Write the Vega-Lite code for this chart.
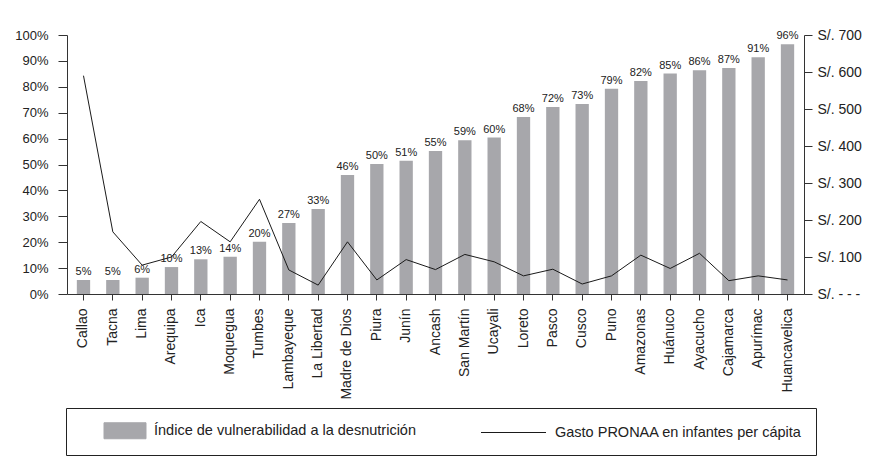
{
  "$schema": "https://vega.github.io/schema/vega-lite/v6.json",
  "width": 737,
  "height": 259,
  "autosize": {"type": "none"},
  "padding": {"left": 67, "top": 35, "right": 69, "bottom": 170},
  "background": "white",
  "config": {
    "view": {"stroke": null},
    "font": "Liberation Sans",
    "axis": {"domainColor": "#333", "tickColor": "#333", "labelColor": "#222", "grid": false, "title": null, "domainWidth": 1, "tickWidth": 1}
  },
  "data": {
    "values": [
      {"region": "Callao", "indice": 0.054, "gasto": 590},
      {"region": "Tacna", "indice": 0.054, "gasto": 168},
      {"region": "Lima", "indice": 0.063, "gasto": 78},
      {"region": "Arequipa", "indice": 0.104, "gasto": 100},
      {"region": "Ica", "indice": 0.134, "gasto": 196},
      {"region": "Moquegua", "indice": 0.144, "gasto": 141},
      {"region": "Tumbes", "indice": 0.202, "gasto": 256},
      {"region": "Lambayeque", "indice": 0.274, "gasto": 65},
      {"region": "La Libertad", "indice": 0.328, "gasto": 24},
      {"region": "Madre de Dios", "indice": 0.459, "gasto": 141},
      {"region": "Piura", "indice": 0.502, "gasto": 38},
      {"region": "Junín", "indice": 0.514, "gasto": 93},
      {"region": "Ancash", "indice": 0.552, "gasto": 66},
      {"region": "San Martín", "indice": 0.594, "gasto": 107},
      {"region": "Ucayali", "indice": 0.604, "gasto": 87},
      {"region": "Loreto", "indice": 0.683, "gasto": 49},
      {"region": "Pasco", "indice": 0.722, "gasto": 67},
      {"region": "Cusco", "indice": 0.734, "gasto": 27},
      {"region": "Puno", "indice": 0.792, "gasto": 49},
      {"region": "Amazonas", "indice": 0.822, "gasto": 105},
      {"region": "Huánuco", "indice": 0.851, "gasto": 69},
      {"region": "Ayacucho", "indice": 0.864, "gasto": 110},
      {"region": "Cajamarca", "indice": 0.873, "gasto": 36},
      {"region": "Apurímac", "indice": 0.914, "gasto": 49},
      {"region": "Huancavelica", "indice": 0.964, "gasto": 38}
    ]
  },
  "encoding": {
    "x": {
      "field": "region", "type": "nominal", "sort": null,
      "scale": {"paddingInner": 0.546, "paddingOuter": 0.335},
      "axis": {"labelAngle": -90, "labelAlign": "right", "labelBaseline": "middle", "tickSize": 6, "labelPadding": 8, "labelFontSize": 14}
    }
  },
  "layer": [
    {
      "encoding": {
        "y": {
          "field": "indice", "type": "quantitative",
          "scale": {"domain": [0, 1]},
          "axis": {"orient": "left", "values": [0, 0.1, 0.2, 0.3, 0.4, 0.5, 0.6, 0.7, 0.8, 0.9, 1], "format": ".0%", "tickSize": 9, "labelPadding": 10, "labelFontSize": 13}
        }
      },
      "layer": [
        {
          "mark": {"type": "bar"},
          "encoding": {
            "color": {
              "datum": "Índice de vulnerabilidad a la desnutrición",
              "scale": {"domain": ["Índice de vulnerabilidad a la desnutrición", "Gasto PRONAA en infantes per cápita"], "range": ["#a7a7ab", "#1a1a1a"]},
              "legend": {
                "orient": "none", "legendX": -1, "legendY": 373,
                "direction": "horizontal", "columns": 2, "title": null,
                "columnPadding": 63, "padding": 14, "strokeColor": "#222",
                "symbolSize": 256, "labelOffset": 57, "labelFontSize": 14.5, "labelLimit": 500, "labelColor": "#222",
                "encode": {
                  "symbols": {
                    "update": {
                      "shape": {"signal": "datum.value == 'Gasto PRONAA en infantes per cápita' ? 'M-1.0625,0H7.0625' : 'M1.9375,-1H7.1875V1H1.9375Z'"},
                      "fill": {"signal": "datum.value == 'Gasto PRONAA en infantes per cápita' ? 'transparent' : '#a7a7ab'"},
                      "stroke": {"signal": "datum.value == 'Gasto PRONAA en infantes per cápita' ? '#1a1a1a' : 'transparent'"},
                      "strokeWidth": {"value": 1},
                      "opacity": {"value": 1}
                    }
                  }
                }
              }
            }
          }
        },
        {
          "mark": {"type": "text", "baseline": "bottom", "dy": -3, "fontSize": 11, "fill": "#222"},
          "encoding": {"text": {"field": "indice", "type": "quantitative", "format": ".0%"}}
        }
      ]
    },
    {
      "mark": {"type": "line", "strokeWidth": 1},
      "encoding": {
        "y": {
          "field": "gasto", "type": "quantitative",
          "scale": {"domain": [0, 700]},
          "axis": {"orient": "right", "values": [0, 100, 200, 300, 400, 500, 600, 700], "tickSize": 8, "labelPadding": 5, "labelFontSize": 14,
            "labelExpr": "datum.value == 0 ? 'S/.  - - -' : 'S/. ' + datum.value"}
        },
        "color": {"datum": "Gasto PRONAA en infantes per cápita"}
      }
    }
  ],
  "resolve": {"scale": {"y": "independent"}}
}
